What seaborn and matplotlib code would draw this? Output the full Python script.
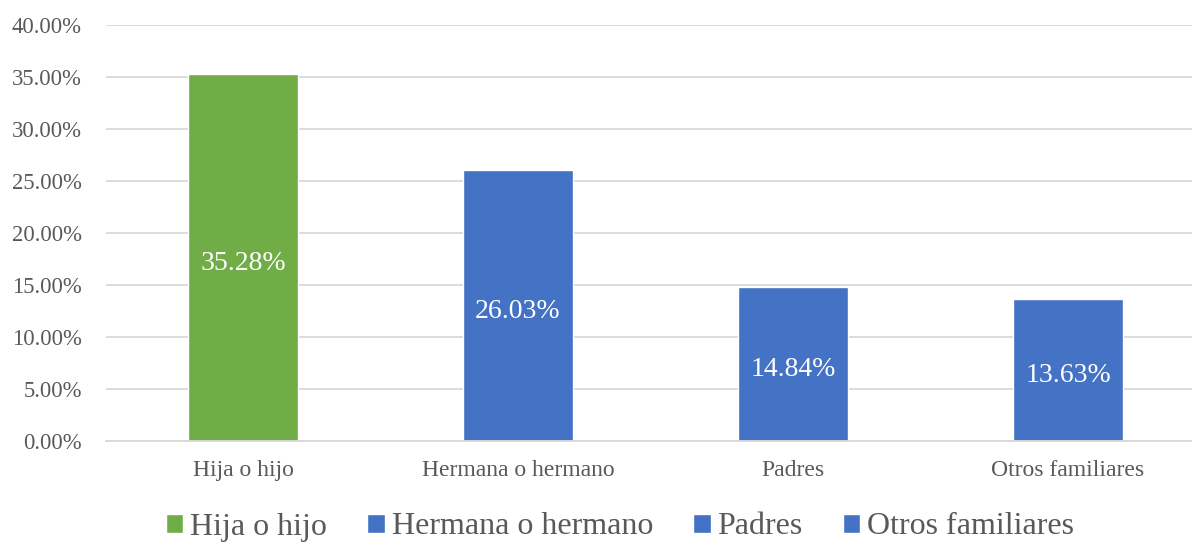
import matplotlib
matplotlib.use("Agg")
import matplotlib.pyplot as plt
import seaborn as sns
import pandas as pd

# Data
categorias = ["Hija o hijo", "Hermana o hermano", "Padres", "Otros familiares"]
porcentajes = [35.28, 26.03, 14.84, 13.63]
colores = ["#70AD47", "#4472C4", "#4472C4", "#4472C4"]
yticks = [0, 5, 10, 15, 20, 25, 30, 35, 40]

df = pd.DataFrame({"categoria": categorias, "pct": porcentajes})

sns.set_style("white")
plt.rcParams["font.family"] = ["Liberation Serif", "DejaVu Serif"]
gris = "#595959"

fig = plt.figure(figsize=(11.92, 5.42), dpi=100)
# plot area is wider than the picture (cropped on the right like the original)
ax = fig.add_axes([105.5 / 1192, 1 - 441 / 542, 1100 / 1192, 416 / 542])

sns.barplot(data=df, x="categoria", y="pct", hue="categoria",
            palette=colores, width=0.4, legend=True, ax=ax, saturation=1)

ax.set_xlim(-0.5, 3.5)
ax.set_ylim(0, 40)
ax.set_yticks(yticks)
ax.set_yticklabels([f"{t:.2f}%" for t in yticks])
ax.yaxis.grid(True, color="#D9D9D9", linewidth=1.3)
ax.set_axisbelow(True)
for s in ["top", "right", "left"]:
    ax.spines[s].set_visible(False)
ax.spines["bottom"].set_color("#D9D9D9")
ax.spines["bottom"].set_linewidth(1.3)
ax.tick_params(axis="y", length=0, pad=17, labelsize=16.3, labelcolor=gris)
ax.tick_params(axis="x", length=0, pad=14, labelsize=17, labelcolor=gris)
ax.set_xlabel("")
ax.set_ylabel("")

# data labels (a bit below the bar middle, like the original)
for cont in ax.containers:
    anns = ax.bar_label(cont, labels=[f"{v:.2f}%" for v in cont.datavalues],
                        label_type="center", color="white", fontsize=20)
    for a in anns:
        a.xyann = (0, -4)

handles, labels = ax.get_legend_handles_labels()
ax.get_legend().remove()
fig.legend(handles, labels, loc="center", bbox_to_anchor=(620 / 1192, 1 - 527 / 542),
           ncol=4, frameon=False, fontsize=23, handlelength=0.55, handleheight=0.55,
           handletextpad=0.22, columnspacing=1.25, labelcolor=gris)

fig.savefig("out.png", dpi=100)
